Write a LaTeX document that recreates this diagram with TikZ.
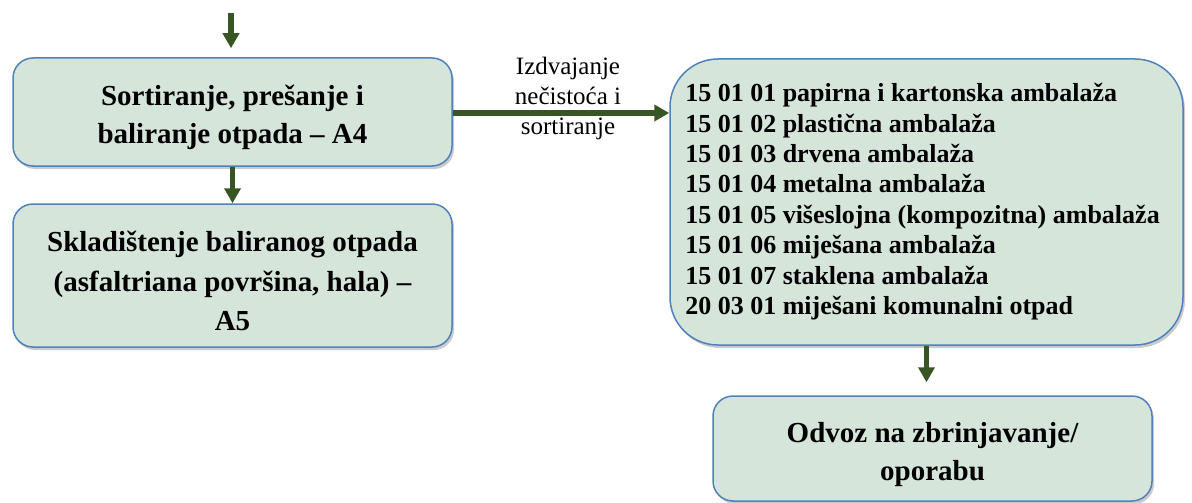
\documentclass[tikz,border=0pt]{standalone}
\usepackage{fontspec}
\setmainfont{Liberation Serif}
\usetikzlibrary{arrows.meta,shadows}
\definecolor{boxfill}{HTML}{D6E5D9}
\definecolor{boxline}{HTML}{4F81BD}
\definecolor{arrowgreen}{HTML}{375623}
\tikzset{
  procbox/.style={draw=boxline, line width=1.5pt, fill=boxfill, rounded corners=20pt,
    align=center, font=\fontsize{29}{38}\selectfont\bfseries,
    drop shadow={shadow xshift=2pt, shadow yshift=-3pt, fill=black!45, opacity=0.45}},
  listbox/.style={draw=boxline, line width=1.5pt, fill=boxfill, rounded corners=48pt,
    align=left, font=\fontsize{26}{30.4}\selectfont\bfseries,
    drop shadow={shadow xshift=2pt, shadow yshift=-3pt, fill=black!45, opacity=0.45}},
  flow/.style={draw=arrowgreen, line width=5.5pt, -{Triangle[width=16pt,length=15pt]}},
  lbl/.style={align=center, font=\fontsize{25}{30}\selectfont, inner sep=0pt}
}
\begin{document}
\begin{tikzpicture}[x=1pt,y=-1pt]
\useasboundingbox (0,0) rectangle (1192,503);
\node[procbox, minimum width=439pt, minimum height=108pt, inner sep=0pt] (a4) at (232.5,112)
  {\begin{tabular}{@{}c@{}}\rule{0pt}{36.6pt}Sortiranje, prešanje i\\baliranje otpada – A4\end{tabular}};
\node[procbox, minimum width=439pt, minimum height=143pt, inner sep=0pt] (a5) at (232.5,275.5)
  {\begin{tabular}{@{}c@{}}\rule{0pt}{42.6pt}Skladištenje baliranog otpada\\[2pt](asfaltriana površina, hala) –\\[1pt]A5\end{tabular}};
\node[listbox, minimum width=513pt, minimum height=286pt, inner sep=0pt] (list) at (926.5,202)
  {\begin{tabular}{@{}l@{}}15 01 01 papirna i kartonska ambalaža\\
   15 01 02 plastična ambalaža\\
   15 01 03 drvena ambalaža\\
   15 01 04 metalna ambalaža\\
   15 01 05 višeslojna (kompozitna) ambalaža\\
   15 01 06 miješana ambalaža\\
   15 01 07 staklena ambalaža\\
   20 03 01 miješani komunalni otpad\end{tabular}\hspace*{8pt}};
\node[procbox, minimum width=439pt, minimum height=105pt, inner sep=0pt] (odv) at (932.5,448.5)
  {\begin{tabular}{@{}c@{}}\rule{0pt}{36.6pt}Odvoz na zbrinjavanje/\\oporabu\end{tabular}};
\coordinate (in) at (231,13);
\draw[flow, shorten >=9pt] (in) -- (in |- a4.north);
\draw[flow] (a4.south) -- (a5.north);
\draw[flow] ([yshift=-1pt]a4.east) -- ([yshift=-1pt]a4.east -| list.west);
\node[lbl] (lab) at (568,98) {Izdvajanje\\nečistoća i\\sortiranje};
\draw[flow, shorten >=13pt] (list.south) -- (list.south |- odv.north);
\end{tikzpicture}
\end{document}
